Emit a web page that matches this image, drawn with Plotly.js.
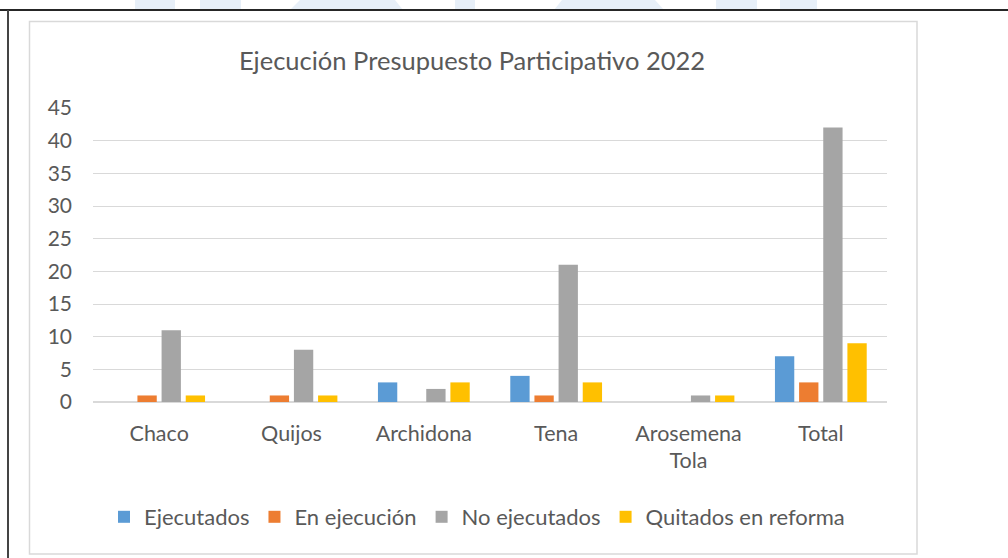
<!DOCTYPE html>
<html>
<head>
<meta charset="utf-8">
<script src="https://cdn.plot.ly/plotly-3.0.1.min.js"></script>
<style>
html,body{margin:0;padding:0;background:#fff;}
#chart{width:1008px;height:558px;}
</style>
</head>
<body>
<div id="chart"></div>
<script>
// ---- data ----
const categories = ["Chaco", "Quijos", "Archidona", "Tena", "Arosemena<br>Tola", "Total"];
const ejecutados = [0, 0, 3, 4, 0, 7];
const enEjecucion = [1, 1, 0, 1, 0, 3];
const noEjecutados = [11, 8, 2, 21, 1, 42];
const quitadosReforma = [1, 1, 3, 3, 1, 9];
const seriesNames = ["Ejecutados", "En ejecución", "No ejecutados", "Quitados en reforma"];
const yTicks = [0, 5, 10, 15, 20, 25, 30, 35, 40, 45];

// ---- layout helpers (pixel -> paper) ----
const W = 1008, H = 558;
const M = {l: 93, r: 121, t: 108, b: 156};
const PW = W - M.l - M.r, PH = H - M.t - M.b;
const px = x => (x - M.l) / PW;
const py = y => (H - M.b - y) / PH;

const colors = ["#5B9BD5", "#ED7D31", "#A5A5A5", "#FFC000"];
const seriesVals = [ejecutados, enEjecucion, noEjecutados, quitadosReforma];
const FONT = "Lato, 'Open Sans', sans-serif";

const traces = seriesVals.map((v, i) => ({
  type: "bar",
  name: seriesNames[i],
  x: categories,
  y: v,
  marker: {color: colors[i]},
  hoverinfo: "x+y+name"
}));

// watermark strips visible above the frame
const wm = [[135,175],[200,241],[455,475],[716,757],[780,817]];
const shapes = [];
wm.forEach(([a,b]) => shapes.push({type:"rect", xref:"paper", yref:"paper",
  x0:px(a), x1:px(b), y0:py(10), y1:py(0), fillcolor:"#e7eff8", line:{width:0}, layer:"below"}));
shapes.push({type:"path", xref:"paper", yref:"paper", layer:"below",
  path:`M${px(290)},${py(10)} L${px(300)},${py(0)} L${px(395)},${py(0)} L${px(403)},${py(10)} Z`,
  fillcolor:"#e7eff8", line:{width:0}});
shapes.push({type:"path", xref:"paper", yref:"paper", layer:"below",
  path:`M${px(554)},${py(10)} L${px(562)},${py(0)} L${px(655)},${py(0)} L${px(664)},${py(10)} Z`,
  fillcolor:"#e7eff8", line:{width:0}});
// chart box
shapes.push({type:"rect", xref:"paper", yref:"paper", layer:"below",
  x0:px(29.5), x1:px(917), y0:py(554), y1:py(21.5), line:{color:"#d9d9d9", width:1.5}, fillcolor:"rgba(0,0,0,0)"});
// black frame lines
shapes.push({type:"line", xref:"paper", yref:"paper", x0:px(0), x1:px(1008), y0:py(10), y1:py(10), line:{color:"#262626", width:2}});
shapes.push({type:"line", xref:"paper", yref:"paper", x0:px(8), x1:px(8), y0:py(10), y1:py(558), line:{color:"#444", width:2}});

const layout = {
  width: W, height: H,
  margin: M,
  paper_bgcolor: "rgba(0,0,0,0)",
  plot_bgcolor: "rgba(0,0,0,0)",
  font: {family: FONT, color: "#595959", size: 21},
  title: {text: "Ejecución Presupuesto Participativo 2022", font: {family: FONT, size: 25.5, color: "#595959"},
          xref: "container", yref: "container", x: 472 / W, y: 1 - 61 / H, xanchor: "center", yanchor: "middle"},
  barmode: "group",
  bargap: 0.27,
  bargroupgap: 0.2,
  xaxis: {type: "category", showgrid: false, showline: false, ticks: "", zeroline: false,
          tickfont: {size: 21.5, color: "#595959"}, ticklabelstandoff: 16, fixedrange: true},
  yaxis: {range: [0, 45], tickvals: yTicks, ticktext: yTicks.map(String), showgrid: true,
          gridcolor: "#d9d9d9", gridwidth: 1, zeroline: true, zerolinecolor: "#d9d9d9", zerolinewidth: 2,
          showline: false, ticks: "", tickfont: {size: 21, color: "#595959"}, ticklabelstandoff: 20, fixedrange: true},
  showlegend: true,
  legend: {orientation: "h", x: px(477), xanchor: "center", y: py(517), yanchor: "middle",
           font: {size: 22, color: "#595959"}, itemclick: false, bgcolor: "rgba(0,0,0,0)"},
  shapes: shapes
};

Plotly.newPlot("chart", traces, layout, {displayModeBar: false, staticPlot: false});
</script>
</body>
</html>
